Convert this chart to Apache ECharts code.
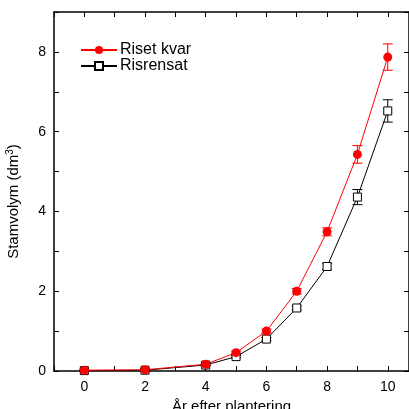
<!DOCTYPE html>
<html>
<head>
<meta charset="utf-8">
<script src="https://cdn.jsdelivr.net/npm/echarts@6/dist/echarts.min.js"></script>
<style>html,body{margin:0;padding:0;background:#fff;}#c{width:409px;height:409px;}</style>
</head>
<body>
<div id="c"></div>
<script>
var years = [0, 2, 4, 5, 6, 7, 8, 9, 10];
var risetKvar = [0.02, 0.03, 0.17, 0.46, 1.0, 2.0, 3.49, 5.43, 7.87];
var risetKvarErr = [0.03, 0.03, 0.03, 0.04, 0.05, 0.07, 0.1, 0.22, 0.33];
var risrensat = [0.01, 0.02, 0.15, 0.36, 0.80, 1.58, 2.62, 4.36, 6.52];
var risrensatErr = [0.02, 0.02, 0.02, 0.03, 0.04, 0.05, 0.08, 0.19, 0.28];
var xTickLabels = ['0', '2', '4', '6', '8', '10'];
var yTickLabels = ['0', '2', '4', '6', '8'];

var font = 'Liberation Sans, Arial, sans-serif';

function pairs(xs, ys) { return xs.map(function (x, i) { return [x, ys[i]]; }); }
function errData(xs, ys, es) { return xs.map(function (x, i) { return [x, ys[i] - es[i], ys[i] + es[i]]; }); }

function errRender(color) {
  return function (params, api) {
    var x = api.value(0);
    var lo = api.coord([x, api.value(1)]);
    var hi = api.coord([x, api.value(2)]);
    var w = 5;
    var style = { stroke: color, lineWidth: 1 };
    return {
      type: 'group',
      children: [
        { type: 'line', shape: { x1: lo[0], y1: lo[1], x2: hi[0], y2: hi[1] }, style: style },
        { type: 'line', shape: { x1: lo[0] - w, y1: lo[1], x2: lo[0] + w, y2: lo[1] }, style: style },
        { type: 'line', shape: { x1: hi[0] - w, y1: hi[1], x2: hi[0] + w, y2: hi[1] }, style: style }
      ]
    };
  };
}

var xLabelFmt = function (v) { return xTickLabels.indexOf(String(v)) >= 0 ? String(v) : ''; };
var yLabelFmt = function (v) { return yTickLabels.indexOf(String(v)) >= 0 ? String(v) : ''; };

var axisCommon = {
  axisLine: { show: true, onZero: false, lineStyle: { color: '#000', width: 1.5 } },
  axisTick: { show: true, inside: true, length: 5, lineStyle: { color: '#000', width: 1 } },
  splitLine: { show: false }
};

var chart = echarts.init(document.getElementById('c'));
chart.setOption({
  animation: false,
  backgroundColor: '#fff',
  grid: { left: 54, right: 0, top: 12, bottom: 38, containLabel: false, outerBoundsMode: 'none' },
  legend: {
    orient: 'vertical',
    left: 75, top: 37,
    itemWidth: 36, itemHeight: 10, itemGap: 0,
    textStyle: { fontFamily: font, fontSize: 16, color: '#000', padding: [0, 0, 0, -2] },
    data: ['Riset kvar', 'Risrensat']
  },
  xAxis: [
    Object.assign({
      type: 'value', min: -1, max: 10.7, interval: 1, position: 'bottom',
      axisLabel: { formatter: xLabelFmt, fontFamily: font, fontSize: 14, color: '#000', margin: 9, showMaxLabel: false },
      name: 'År efter plantering', nameLocation: 'middle', nameGap: 25,
      nameTextStyle: { fontFamily: font, fontSize: 15, color: '#000' }
    }, axisCommon),
    Object.assign({
      type: 'value', min: -1, max: 10.7, interval: 1, position: 'top',
      axisLabel: { show: false }
    }, axisCommon)
  ],
  yAxis: [
    Object.assign({
      type: 'value', min: 0, max: 9, interval: 1, position: 'left',
      axisLabel: { formatter: yLabelFmt, fontFamily: font, fontSize: 14, color: '#000', margin: 8 },
      name: '{n|Stamvolym (dm}{s|3}{n|)}', nameLocation: 'middle', nameGap: 31, nameRotate: 90,
      nameTextStyle: {
        fontFamily: font, fontSize: 15, color: '#000', padding: [0, 0, 0, -20],
        rich: { n: { fontFamily: font, fontSize: 15, color: '#000' }, s: { fontFamily: font, fontSize: 10, color: '#000', verticalAlign: 'top', padding: [0, 0, 8, 0] } }
      }
    }, axisCommon),
    Object.assign({
      type: 'value', min: 0, max: 9, interval: 1, position: 'right',
      axisLabel: { show: false }
    }, axisCommon)
  ],
  series: [
    {
      name: 'Riset kvar', type: 'line', data: pairs(years, risetKvar),
      color: '#ff0000', lineStyle: { color: '#ff0000', width: 1 },
      symbol: 'circle', symbolSize: 9, itemStyle: { color: '#ff0000' }, z: 4
    },
    {
      name: 'Risrensat', type: 'line', data: pairs(years, risrensat),
      color: '#000', lineStyle: { color: '#000', width: 1 },
      symbol: 'rect', symbolSize: 8, showAllSymbol: true,
      itemStyle: { color: '#fff', borderColor: '#000', borderWidth: 1 }, z: 3
    },
    { type: 'custom', renderItem: errRender('#ff0000'), data: errData(years, risetKvar, risetKvarErr), encode: { x: 0, y: [1, 2] }, z: 2, silent: true },
    { type: 'custom', renderItem: errRender('#000'), data: errData(years, risrensat, risrensatErr), encode: { x: 0, y: [1, 2] }, z: 2, silent: true }
  ]
});
</script>
</body>
</html>
